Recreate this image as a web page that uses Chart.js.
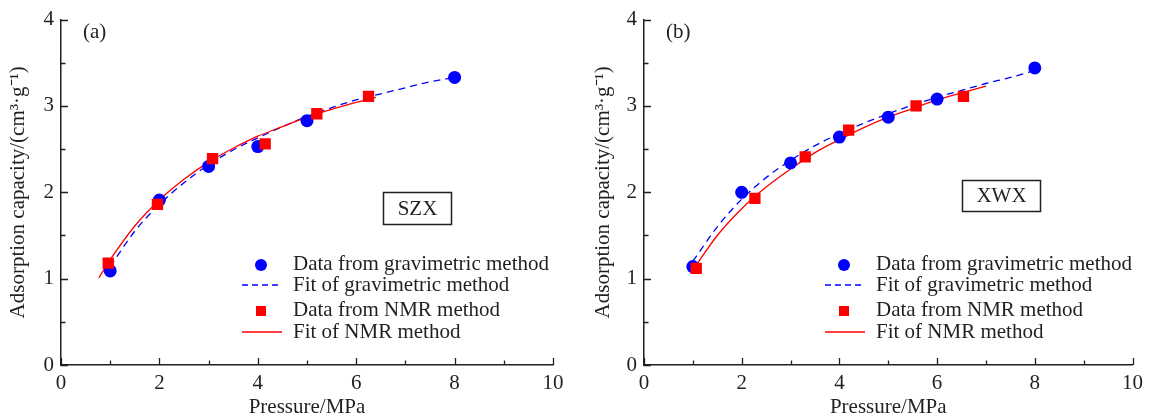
<!DOCTYPE html>
<html>
<head>
<meta charset="utf-8">
<script src="https://cdn.jsdelivr.net/npm/chart.js@4.4.1/dist/chart.umd.min.js"></script>
<style>
  html, body { margin: 0; padding: 0; background: #ffffff; }
  #wrap { position: relative; width: 1149px; height: 420px; overflow: hidden; }
  .panel { position: absolute; top: 0; height: 420px; }
</style>
</head>
<body>
<div id="wrap">
  <div class="panel" style="left:0;width:575px"><canvas id="chartA" width="575" height="420"></canvas></div>
  <div class="panel" style="left:575px;width:574px"><canvas id="chartB" width="574" height="420"></canvas></div>
</div>
<script>
// ---------- Data ----------
// Panel (a) SZX
const pressureA_grav = [1, 2, 3, 4, 5, 8];
const adsA_grav      = [1.09, 1.91, 2.30, 2.53, 2.83, 3.33];
const pressureA_nmr  = [0.96, 1.96, 3.08, 4.15, 5.20, 6.25];
const adsA_nmr       = [1.18, 1.86, 2.39, 2.56, 2.91, 3.11];
const fitA_grav_x    = [1, 1.5, 2, 2.5, 3, 3.5, 4, 4.5, 5, 5.5, 6, 6.5, 7, 7.5, 8];
const fitA_grav_y    = [1.14, 1.55, 1.86, 2.11, 2.32, 2.49, 2.63, 2.76, 2.88, 2.98, 3.07, 3.14, 3.21, 3.28, 3.33];
const fitA_nmr_x     = [0.77, 1, 1.5, 2, 2.5, 3, 3.5, 4, 4.5, 5, 5.5, 6, 6.4];
const fitA_nmr_y     = [1.01, 1.22, 1.61, 1.91, 2.15, 2.35, 2.51, 2.65, 2.76, 2.87, 2.96, 3.04, 3.10];

// Panel (b) XWX
const pressureB_grav = [1, 2, 3, 4, 5, 6, 8];
const adsB_grav      = [1.14, 2.00, 2.34, 2.64, 2.87, 3.08, 3.44];
const pressureB_nmr  = [1.07, 2.27, 3.30, 4.19, 5.57, 6.54];
const adsB_nmr       = [1.12, 1.93, 2.41, 2.72, 3.00, 3.11];
const fitB_grav_x    = [1, 1.5, 2, 2.5, 3, 3.5, 4, 4.5, 5, 5.5, 6, 6.5, 7, 7.5, 8];
const fitB_grav_y    = [1.20, 1.60, 1.92, 2.17, 2.37, 2.54, 2.68, 2.80, 2.91, 3.01, 3.10, 3.18, 3.26, 3.33, 3.41];
const fitB_nmr_x     = [1, 1.5, 2, 2.5, 3, 3.5, 4, 4.5, 5, 5.5, 6, 6.5, 7];
const fitB_nmr_y     = [1.10, 1.50, 1.81, 2.06, 2.27, 2.46, 2.61, 2.75, 2.87, 2.97, 3.07, 3.15, 3.23];

const xTickValues = [0, 2, 4, 6, 8, 10];
const yTickValues = [0, 1, 2, 3, 4];
const legendLabels = ["Data from gravimetric method", "Fit of gravimetric method", "Data from NMR method", "Fit of NMR method"];
const xTitle = "Pressure/MPa";
const yTitle = "Adsorption capacity/(cm\u00B3\u00B7g\u207B\u00B9)";

// ---------- Styling ----------
const FONT = "'Liberation Serif', 'Times New Roman', serif";
const INK = '#231f20';
const BLUE = '#0000ff';
const RED = '#ff0000';

function pts(xs, ys) { return xs.map((x, i) => ({ x: x, y: ys[i] })); }

const decorPlugin = {
  id: 'decor',
  afterDraw(chart) {
    const o = chart.options.plugins.decor;
    const ctx = chart.ctx;
    const xs = chart.scales.x, ys = chart.scales.y;
    const ca = chart.chartArea;
    ctx.save();
    // inward ticks
    ctx.strokeStyle = INK;
    ctx.lineWidth = 1.3;
    ctx.beginPath();
    for (let v = 0; v <= 10; v += 1) {
      const px = Math.round(xs.getPixelForValue(v)) + 0.5;
      const len = (v % 2 === 0) ? 7 : 4.5;
      ctx.moveTo(px, ca.bottom);
      ctx.lineTo(px, ca.bottom - len);
    }
    for (let v = 0; v <= 4.001; v += 0.5) {
      const py = Math.round(ys.getPixelForValue(v)) + 0.5;
      const len = (Math.abs(v - Math.round(v)) < 1e-6) ? 7 : 4.5;
      ctx.moveTo(ca.left, py);
      ctx.lineTo(ca.left + len, py);
    }
    ctx.stroke();

    // panel label
    ctx.fillStyle = INK;
    ctx.font = '21px ' + FONT;
    ctx.textBaseline = 'middle';
    ctx.textAlign = 'left';
    ctx.fillText(o.panel, ca.left + 22, 32);

    // sample name box
    const b = o.box;
    ctx.lineWidth = 1.5;
    ctx.strokeStyle = INK;
    ctx.strokeRect(b.x + 0.5, b.y + 0.5, b.w, b.h);
    ctx.textAlign = 'center';
    ctx.fillText(o.name, b.x + b.w / 2 + 0.5, b.y + b.h / 2 + 1);

    // legend
    const lx = ca.left + 232;
    const symX = ca.left + 200;
    const rows = [264, 285, 310, 332];
    ctx.textAlign = 'left';
    ctx.fillStyle = INK;
    legendLabels.forEach((t, i) => ctx.fillText(t, lx, rows[i]));
    // circle
    ctx.fillStyle = BLUE;
    ctx.beginPath(); ctx.arc(symX, rows[0] + 1, 6, 0, Math.PI * 2); ctx.fill();
    // dashed line
    ctx.strokeStyle = BLUE; ctx.lineWidth = 1.3; ctx.setLineDash([6, 4]);
    ctx.beginPath(); ctx.moveTo(symX - 19, rows[1]); ctx.lineTo(symX + 21, rows[1]); ctx.stroke();
    ctx.setLineDash([]);
    // square
    ctx.fillStyle = RED;
    ctx.fillRect(symX - 5, rows[2] + 1 - 5, 10, 10);
    // solid line
    ctx.strokeStyle = RED; ctx.lineWidth = 1.3;
    ctx.beginPath(); ctx.moveTo(symX - 19, rows[3]); ctx.lineTo(symX + 21, rows[3]); ctx.stroke();
    ctx.restore();
  }
};

function makeChart(id, d) {
  return new Chart(document.getElementById(id), {
    type: 'scatter',
    data: {
      datasets: [
        { label: legendLabels[1], data: pts(d.fgx, d.fgy), showLine: true, borderColor: BLUE, borderWidth: 1.3,
          borderDash: [7, 5], pointRadius: 0, cubicInterpolationMode: 'monotone', order: 3 },
        { label: legendLabels[3], data: pts(d.fnx, d.fny), showLine: true, borderColor: RED, borderWidth: 1.3,
          pointRadius: 0, cubicInterpolationMode: 'monotone', order: 2 },
        { label: legendLabels[0], data: pts(d.gx, d.gy), pointStyle: 'circle', pointRadius: 6.5,
          backgroundColor: BLUE, borderColor: BLUE, borderWidth: 0, order: 1 },
        { label: legendLabels[2], data: pts(d.nx, d.ny), pointStyle: 'rect', pointRadius: 8,
          backgroundColor: RED, borderColor: RED, borderWidth: 0, order: 0 }
      ]
    },
    options: {
      responsive: false,
      animation: false,
      devicePixelRatio: 1,
      layout: { padding: { left: 0, right: d.padRight, top: 17.5, bottom: 0 } },
      plugins: {
        legend: { display: false },
        tooltip: { enabled: false },
        decor: { panel: d.panel, name: d.name, box: d.box }
      },
      scales: {
        x: {
          type: 'linear', min: 0, max: 10,
          afterBuildTicks: (s) => { s.ticks = xTickValues.map(v => ({ value: v })); },
          afterFit: (s) => { s.height = 55; },
          grid: { display: false, drawTicks: false },
          border: { display: true, color: INK, width: 1.5 },
          ticks: { color: INK, font: { family: FONT, size: 21 }, padding: 6, maxRotation: 0 },
          title: { display: true, text: xTitle, color: INK, font: { family: FONT, size: 21 }, padding: { top: 0, bottom: 0 } }
        },
        y: {
          type: 'linear', min: 0, max: 4,
          afterBuildTicks: (s) => { s.ticks = yTickValues.map(v => ({ value: v })); },
          afterFit: (s) => { s.width = d.yWidth; },
          grid: { display: false, drawTicks: false },
          border: { display: true, color: INK, width: 1.5 },
          ticks: { color: INK, font: { family: FONT, size: 21 }, padding: 7 },
          title: { display: true, text: yTitle, color: INK, font: { family: FONT, size: 21 }, padding: { top: d.yTitlePad, bottom: 0 } }
        }
      }
    },
    plugins: [decorPlugin]
  });
}

makeChart('chartA', {
  gx: pressureA_grav, gy: adsA_grav, nx: pressureA_nmr, ny: adsA_nmr,
  fgx: fitA_grav_x, fgy: fitA_grav_y, fnx: fitA_nmr_x, fny: fitA_nmr_y,
  panel: '(a)', name: 'SZX', box: { x: 383, y: 192, w: 68, h: 32 },
  padRight: 22, yWidth: 61, yTitlePad: 6
});
makeChart('chartB', {
  gx: pressureB_grav, gy: adsB_grav, nx: pressureB_nmr, ny: adsB_nmr,
  fgx: fitB_grav_x, fgy: fitB_grav_y, fnx: fitB_nmr_x, fny: fitB_nmr_y,
  panel: '(b)', name: 'XWX', box: { x: 387, y: 180, w: 78, h: 31 },
  padRight: 13, yWidth: 69, yTitlePad: 16
});
</script>
</body>
</html>
